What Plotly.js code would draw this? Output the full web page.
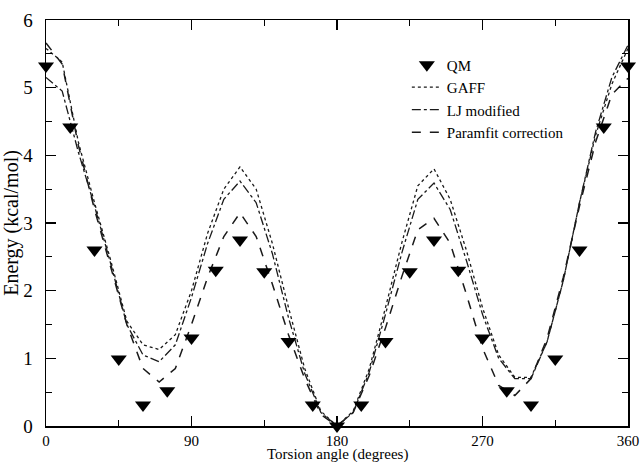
<!DOCTYPE html>
<html>
<head>
<meta charset="utf-8">
<script src="https://cdn.plot.ly/plotly-3.0.1.min.js"></script>
<style>html,body{margin:0;padding:0;background:#fff;}#chart{width:640px;height:462px;}</style>
</head>
<body>
<div id="chart"></div>
<script>
// QM reference points (every 15 degrees)
const qmAngles = [0,15,30,45,60,75,90,105,120,135,150,165,180,195,210,225,240,255,270,285,300,315,330,345,360];
const qmEnergy = [5.32,4.42,2.6,0.99,0.31,0.52,1.3,2.3,2.75,2.28,1.25,0.31,0.0,0.31,1.25,2.28,2.75,2.3,1.3,0.52,0.31,0.99,2.6,4.42,5.32];

// Force-field scans (every 10 degrees)
const scanAngles = [0,10,20,30,40,50,60,70,80,90,100,110,120,130,140,150,160,170,180,190,200,210,220,230,240,250,260,270,280,290,300,310,320,330,340,350,360];
const gaff = [5.58,5.38,4.2,3.3,2.45,1.55,1.2,1.13,1.35,2.0,2.85,3.5,3.83,3.5,2.7,1.75,0.85,0.22,0.0,0.22,0.85,1.75,2.7,3.55,3.8,3.35,2.6,1.75,1.05,0.72,0.72,1.25,2.15,3.3,4.3,5.05,5.58];
const ljModified = [5.15,4.95,4.05,3.25,2.4,1.5,1.05,0.95,1.2,1.9,2.7,3.35,3.62,3.3,2.55,1.6,0.78,0.2,0.0,0.2,0.8,1.65,2.55,3.35,3.59,3.2,2.45,1.65,1.0,0.7,0.7,1.25,2.15,3.3,4.35,5.15,5.63];
const paramfit = [5.66,5.35,4.15,3.2,2.35,1.5,0.85,0.65,0.85,1.5,2.2,2.8,3.15,2.8,2.1,1.35,0.7,0.17,0.0,0.2,0.75,1.45,2.2,2.9,3.07,2.7,1.95,1.15,0.6,0.45,0.7,1.3,2.2,3.25,4.2,4.9,5.14];

const xTicks = [0,90,180,270,360];
const yTicks = [0,1,2,3,4,5,6];
const xTitle = 'Torsion angle (degrees)';
const yTitle = 'Energy (kcal/mol)';

const serif = "'Liberation Serif', 'Times New Roman', Times, serif";
const lineCol = '#1a1a1a';

const traces = [
  {x: scanAngles, y: gaff, name: 'GAFF', mode: 'lines', legendrank: 2,
   line: {color: lineCol, width: 1.3, dash: 'dot'}},
  {x: scanAngles, y: ljModified, name: 'LJ modified', mode: 'lines', legendrank: 3,
   line: {color: lineCol, width: 1.3, dash: 'dashdot'}},
  {x: scanAngles, y: paramfit, name: 'Paramfit correction', mode: 'lines', legendrank: 4,
   line: {color: lineCol, width: 1.5, dash: 'dash'}},
  {x: qmAngles, y: qmEnergy, name: 'QM', mode: 'markers', legendrank: 1, cliponaxis: false,
   marker: {symbol: 'triangle-down', size: 14, color: '#000'}}
];

const layout = {
  width: 640, height: 462,
  margin: {l: 46, r: 12, t: 20, b: 36},
  paper_bgcolor: '#fff', plot_bgcolor: '#fff',
  font: {family: serif, color: '#000', size: 15},
  showlegend: true,
  legend: {x: 0.62, y: 0.93, xanchor: 'left', yanchor: 'top',
    bgcolor: 'rgba(0,0,0,0)', font: {family: serif, size: 15, color: '#000'},
    tracegroupgap: 0, itemwidth: 30},
  annotations: [{
    text: xTitle, xref: 'paper', yref: 'paper', x: 0.5, y: 0,
    xanchor: 'center', yanchor: 'middle', yshift: -28, showarrow: false,
    font: {family: serif, size: 15, color: '#000'}
  }],
  xaxis: {range: [0, 360], tickvals: xTicks, ticktext: xTicks.map(String),
    ticks: 'inside', ticklen: 10, tickwidth: 1.2, tickcolor: '#000',
    minor: {dtick: 45, ticks: 'inside', ticklen: 6, tickwidth: 1.2, tickcolor: '#000'},
    showline: true, linecolor: '#000', linewidth: 1.5, mirror: 'ticks',
    showgrid: false, zeroline: false, automargin: false,
    ticklabeloverflow: 'allow', ticklabelstandoff: 0,
    tickfont: {family: serif, size: 15}},
  yaxis: {range: [0, 6], tickvals: yTicks, ticktext: yTicks.map(String),
    ticks: 'inside', ticklen: 10, tickwidth: 1.2, tickcolor: '#000',
    minor: {dtick: 0.5, ticks: 'inside', ticklen: 6, tickwidth: 1.2, tickcolor: '#000'},
    showline: true, linecolor: '#000', linewidth: 1.5, mirror: 'ticks',
    showgrid: false, zeroline: false, automargin: false,
    ticklabeloverflow: 'allow', ticklabelstandoff: 8,
    tickfont: {family: serif, size: 19},
    title: {text: yTitle, font: {family: serif, size: 20}, standoff: 2}}
};

Plotly.newPlot('chart', traces, layout, {displayModeBar: false, staticPlot: true});
</script>
</body>
</html>
